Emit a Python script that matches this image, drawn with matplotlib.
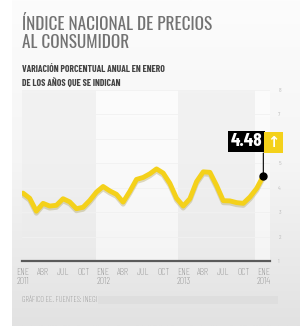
import matplotlib
matplotlib.use('Agg')
import numpy as np
import matplotlib.pyplot as plt
import matplotlib.patheffects as pe
from matplotlib import font_manager as fm
from matplotlib.patches import Rectangle

# INPC, variacion anual (%), ene 2011 - ene 2014
months = list(range(37))
inflation = [3.78, 3.57, 3.04, 3.36, 3.25, 3.28, 3.55, 3.42, 3.14, 3.20, 3.48, 3.82,
             4.05, 3.87, 3.73, 3.41, 3.85, 4.34, 4.42, 4.57, 4.77, 4.60, 4.18, 3.57,
             3.25, 3.55, 4.25, 4.65, 4.63, 4.09, 3.47, 3.46, 3.39, 3.36, 3.62, 3.97,
             4.48]
tick_pos = list(range(0, 37, 3))
tick_labels = ['ENE\n2011', 'ABR', 'JUL', 'OCT', 'ENE\n2012', 'ABR', 'JUL', 'OCT',
               'ENE\n2013', 'ABR', 'JUL', 'OCT', 'ENE\n2014']
y_ticks = [1, 2, 3, 4, 5, 6, 7, 8]
last_label = '4.48'

# fuentes condensadas
installed = set(f.name for f in fm.fontManager.ttflist)
light_fams = set(f.name for f in fm.fontManager.ttflist if f.weight in (300, 'light'))
cond = 'DejaVu Sans'
for c in ['Open Sans Condensed', 'Barlow Condensed', 'Asap Condensed', 'Roboto Condensed']:
    if c in light_fams:
        cond = c
        break
title_font = cond
for c in ['Oswald', 'Pathway Gothic One']:
    if c in installed:
        title_font = c
        break
if 'Open Sans Condensed' in light_fams:
    title_font = 'Open Sans Condensed'
fams = [cond, 'DejaVu Sans']
plt.rcParams['font.family'] = fams

W, H = 300, 329
fig = plt.figure(figsize=(W / 100, H / 100), dpi=100)
fig.patch.set_facecolor('white')


def fit_width(t, target_px):
    # ajusta el tamano de letra al ancho medido en la referencia
    fig.canvas.draw()
    w = t.get_window_extent().width
    t.set_fontsize(t.get_fontsize() * target_px / w)


# fondo gris degradado
bg = fig.add_axes([12 / W, 3 / H, 1 - 12 / W, 1 - 3 / H], zorder=-2)
grad = np.linspace(0, 1, 256).reshape(-1, 1)
bg.imshow(grad, aspect='auto', cmap=matplotlib.colors.LinearSegmentedColormap.from_list(
    'g', ['#fcfcfc', '#f5f5f5', '#e2e2e2']), extent=[0, 1, 0, 1], vmin=0, vmax=1)
bg.axis('off')

ax = fig.add_axes([22 / W, (H - 261) / H, 248 / W, 171 / H])
ax.set_facecolor('none')
ax.set_xlim(-0.15, 37.0)
ax.set_ylim(1, 8)

# bandas verticales
ax.axvspan(-0.15, 11, color='#ebebeb', alpha=0.45, lw=0, zorder=0)
ax.axvspan(11, 23.2, color='white', alpha=0.5, lw=0, zorder=0)
ax.axvspan(23.2, 34.8, color='#ebebeb', alpha=0.45, lw=0, zorder=0)
ax.axvspan(34.8, 37.0, color='white', alpha=0.5, lw=0, zorder=0)
for v in y_ticks[1:]:
    ax.axhline(v, color='#f1f1f1', lw=0.6, zorder=0.5)

ax.plot(months, inflation, color='#f4d11a', lw=3.5, solid_joinstyle='round',
        solid_capstyle='round', zorder=3,
        path_effects=[pe.SimpleLineShadow(offset=(0, -1.5), shadow_color='#a89a50', alpha=0.35),
                      pe.Normal()])
ax.plot(months[-1], inflation[-1], 'o', color='black', ms=5, zorder=4)

# etiqueta del ultimo valor
ax.annotate('', xy=(months[-1], inflation[-1]), xytext=(0, 23), textcoords='offset pixels',
            arrowprops=dict(arrowstyle='-', color='black', lw=0.8, shrinkA=0, shrinkB=0), zorder=4)
ax.annotate(last_label, xy=(months[-1], inflation[-1]), xytext=(-1, 26), textcoords='offset pixels',
            ha='right', va='bottom', fontsize=14, fontweight='bold', color='white', zorder=5,
            bbox=dict(boxstyle='square,pad=0.12', fc='black', ec='none'))
ax.annotate('\u2191', xy=(months[-1], inflation[-1]), xytext=(4, 26), textcoords='offset pixels',
            ha='left', va='bottom', fontsize=10.5, fontweight='bold', color='white', zorder=5,
            family=['DejaVu Sans'],
            bbox=dict(boxstyle='square,pad=0.22', fc='#f4d11a', ec='none'))

for s in ['top', 'left', 'right']:
    ax.spines[s].set_visible(False)
ax.spines['bottom'].set_color('#5a5a5a')
ax.spines['bottom'].set_linewidth(1.6)

ax.set_xticks(tick_pos)
ax.set_xticklabels(tick_labels, fontsize=7, fontweight='light', color='#7a7a7a',
                   linespacing=0.95, ha='center')
ax.tick_params(axis='x', length=0, pad=5)
ax.yaxis.tick_right()
ax.set_yticks(y_ticks)
ax.set_yticklabels([str(v) for v in y_ticks], fontsize=4.5, color='#bdbdbd')
ax.tick_params(axis='y', length=0, pad=6)

# titulos
title = fig.text(22 / W, 1 - 15 / H, 'ÍNDICE NACIONAL DE PRECIOS\nAL CONSUMIDOR', ha='left', va='top',
                 fontsize=15, fontweight='light', color='#727272', linespacing=1.05,
                 family=[title_font, 'DejaVu Sans'])
fit_width(title, 189)
sub = fig.text(22 / W, 1 - 65 / H, 'VARIACIÓN PORCENTUAL ANUAL EN ENERO\nDE LOS AÑOS QUE SE INDICAN',
               ha='left', va='top', fontsize=7, fontweight='bold', color='#444444', linespacing=1.45)
fit_width(sub, 143)

# pie
foot = fig.text(22 / W, 1 - 300 / H, 'GRÁFICO EE. FUENTES: INEGI', ha='left', va='center',
                fontsize=6.8, fontweight='light', color='#7a7a7a')
fit_width(foot, 75)
fig.patches.append(Rectangle((98 / W, 1 - 304 / H), 180 / W, 8 / H, transform=fig.transFigure,
                             fc='#dedede', ec='none', zorder=1))

fig.savefig('out.png', dpi=100)
